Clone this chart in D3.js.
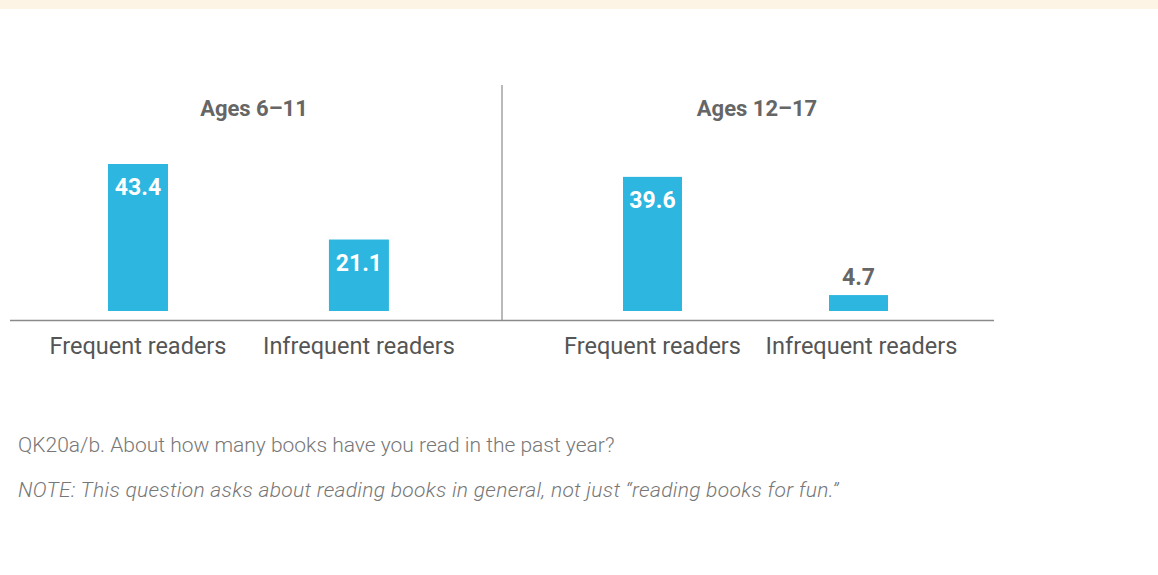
<!DOCTYPE html>
<html><head><meta charset="utf-8">
<script src="https://cdn.jsdelivr.net/npm/d3@7"></script>
<style>body{margin:0;background:#fff;}svg{display:block;}</style>
</head><body>
<svg id="c" width="1158" height="575"></svg>
<script>
const panels = ["Ages 6–11", "Ages 12–17"];
const categories = ["Frequent readers", "Infrequent readers"];
const ages6to11 = [43.4, 21.1];
const ages12to17 = [39.6, 4.7];
const noteLines = ["QK20a/b. About how many books have you read in the past year?",
  "NOTE: This question asks about reading books in general, not just “reading books for fun.”"];

const svg = d3.select("#c");
const font = "Roboto, 'Open Sans', sans-serif";
const barColor = "#2cb6e0";

svg.append("rect").attr("x",0).attr("y",0).attr("width",1158).attr("height",9).attr("fill","#fef4e6");

const baseY = 311;
const y = d3.scaleLinear().domain([0, 43.4]).range([baseY, 164]);

const panelDefs = [
  {title: panels[0], values: ages6to11, range: [63.8, 433.1], pi: 0.7285, po: 0.2, tx: 254},
  {title: panels[1], values: ages12to17, range: [581.8, 929.2], pi: 0.7136, po: 0.2, tx: 757}
];

panelDefs.forEach(p => {
  const x = d3.scaleBand().domain(categories).range(p.range).paddingInner(p.pi).paddingOuter(p.po);
  const g = svg.append("g");
  g.append("text").attr("x", p.tx).attr("y", 116).attr("text-anchor","middle")
    .attr("font-family", font).attr("font-weight", 700).attr("font-size", 22).attr("fill", "#666")
    .text(p.title);
  const data = categories.map((c,i) => ({c, v: p.values[i]}));
  g.selectAll("rect.bar").data(data).join("rect").attr("class","bar")
    .attr("x", d => x(d.c)).attr("width", x.bandwidth())
    .attr("y", d => y(d.v)).attr("height", d => baseY - y(d.v)).attr("fill", barColor);
  g.selectAll("text.val").data(data).join("text").attr("class","val")
    .attr("x", d => x(d.c) + x.bandwidth()/2)
    .attr("y", d => (baseY - y(d.v)) > 40 ? y(d.v) + 31 : y(d.v) - 10)
    .attr("text-anchor","middle").attr("font-family", font).attr("font-weight", 700).attr("font-size", 23)
    .attr("fill", d => (baseY - y(d.v)) > 40 ? "#fff" : "#666")
    .text(d => d3.format(".1f")(d.v));
  g.selectAll("text.cat").data(data).join("text").attr("class","cat")
    .attr("x", d => x(d.c) + x.bandwidth()/2 + (p === panelDefs[1] && d.c === categories[1] ? 3 : 0)).attr("y", 354)
    .attr("text-anchor","middle").attr("font-family", font).attr("font-size", 23.5).attr("fill", "#555")
    .text(d => d.c);
});

svg.append("line").attr("x1",10).attr("x2",994).attr("y1",320.5).attr("y2",320.5)
  .attr("stroke","#8a8a8a").attr("stroke-width",1.5);
svg.append("line").attr("x1",502).attr("x2",502).attr("y1",85).attr("y2",320)
  .attr("stroke","#8a8a8a").attr("stroke-width",1.2);

svg.append("text").attr("x",18).attr("y",452).attr("font-family",font).attr("font-weight",300)
  .attr("font-size",21).attr("fill","#777").text(noteLines[0]);
svg.append("text").attr("x",18).attr("y",497).attr("font-family",font).attr("font-weight",300)
  .attr("font-style","italic").attr("font-size",21).attr("letter-spacing",0.3).attr("fill","#777").text(noteLines[1]);
</script>
</body></html>
